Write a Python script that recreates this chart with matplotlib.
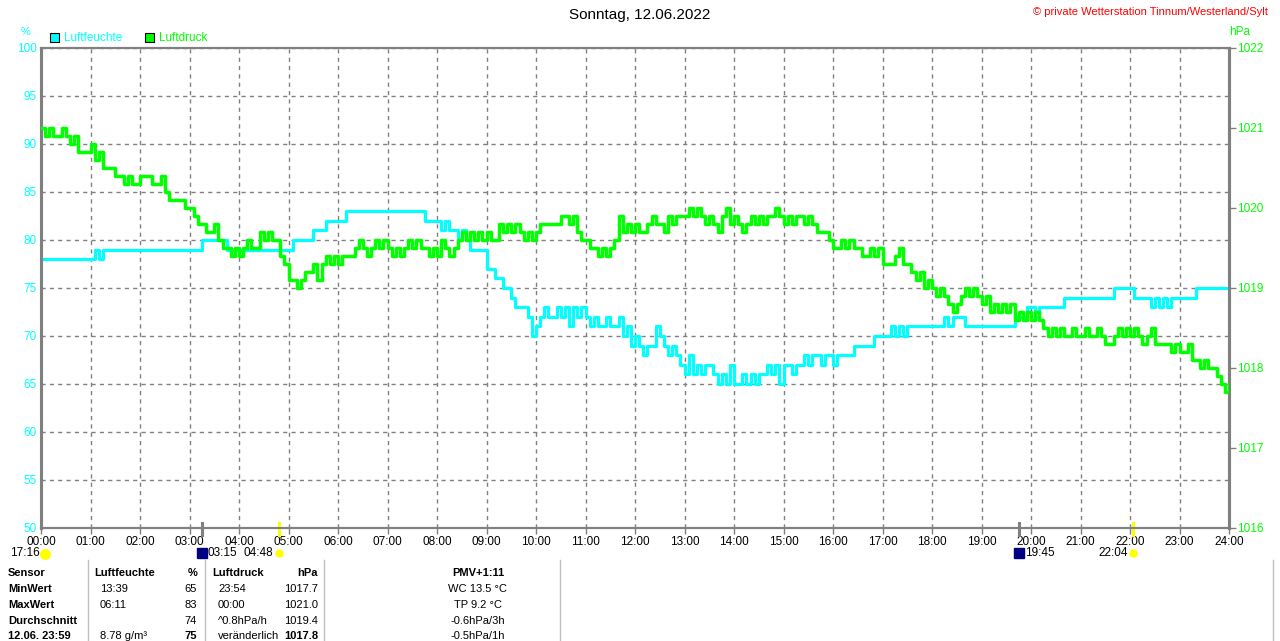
import numpy as np
import matplotlib
matplotlib.use("Agg")
import matplotlib.pyplot as plt
from matplotlib.patches import Rectangle
from matplotlib.lines import Line2D
from matplotlib.transforms import blended_transform_factory

plt.rcParams['font.family'] = ['Liberation Sans', 'DejaVu Sans']

CYAN = "#00ffff"
GREEN = "#00ff00"
GRAY = "#808080"

# Messwerte alle 5 Minuten, eine Zeile pro Stunde (hh:00 ... hh:55), dazu 24:00
humidity = [
    78, 78, 78, 78, 78, 78, 78, 78, 78, 78, 78, 78,
    78, 79, 78, 79, 79, 79, 79, 79, 79, 79, 79, 79,
    79, 79, 79, 79, 79, 79, 79, 79, 79, 79, 79, 79,
    79, 79, 79, 80, 80, 80, 80, 80, 80, 79, 79, 79,
    79, 79, 79, 79, 79, 79, 79, 79, 79, 79, 79, 79,
    79, 80, 80, 80, 80, 80, 81, 81, 81, 82, 82, 82,
    82, 82, 83, 83, 83, 83, 83, 83, 83, 83, 83, 83,
    83, 83, 83, 83, 83, 83, 83, 83, 83, 82, 82, 82,
    82, 81, 82, 81, 81, 80, 81, 80, 79, 79, 79, 79,
    77, 77, 76, 76, 75, 75, 74, 73, 73, 73, 72, 70,
    71, 72, 73, 72, 72, 73, 72, 73, 71, 73, 72, 73,
    72, 71, 72, 71, 71, 72, 71, 71, 72, 70, 71, 69,
    70, 69, 68, 69, 69, 71, 70, 69, 68, 69, 68, 67,
    66, 68, 66, 67, 66, 67, 67, 66, 65, 66, 65, 67,
    65, 65, 66, 65, 66, 65, 66, 66, 67, 66, 67, 65,
    67, 67, 66, 67, 67, 68, 67, 68, 68, 67, 68, 68,
    67, 68, 68, 68, 68, 69, 69, 69, 69, 69, 70, 70,
    70, 70, 71, 70, 71, 70, 71, 71, 71, 71, 71, 71,
    71, 71, 71, 72, 71, 72, 72, 72, 71, 71, 71, 71,
    71, 71, 71, 71, 71, 71, 71, 71, 72, 72, 72, 73,
    73, 72, 73, 73, 73, 73, 73, 73, 74, 74, 74, 74,
    74, 74, 74, 74, 74, 74, 74, 74, 75, 75, 75, 75,
    75, 74, 74, 74, 74, 73, 74, 73, 74, 73, 74, 74,
    74, 74, 74, 74, 75, 75, 75, 75, 75, 75, 75, 75,
    75,
]

pressure = [
    1021.0, 1020.9, 1021.0, 1020.9, 1020.9, 1021.0, 1020.9, 1020.8, 1020.9, 1020.7, 1020.7, 1020.7,
    1020.8, 1020.6, 1020.7, 1020.5, 1020.5, 1020.5, 1020.4, 1020.4, 1020.3, 1020.4, 1020.3, 1020.3,
    1020.4, 1020.4, 1020.4, 1020.3, 1020.3, 1020.4, 1020.2, 1020.1, 1020.1, 1020.1, 1020.1, 1020.0,
    1020.0, 1019.9, 1019.8, 1019.8, 1019.7, 1019.7, 1019.8, 1019.6, 1019.5, 1019.5, 1019.4, 1019.5,
    1019.4, 1019.5, 1019.6, 1019.5, 1019.5, 1019.7, 1019.6, 1019.7, 1019.6, 1019.6, 1019.4, 1019.3,
    1019.1, 1019.1, 1019.0, 1019.1, 1019.2, 1019.2, 1019.3, 1019.1, 1019.3, 1019.4, 1019.3, 1019.4,
    1019.3, 1019.4, 1019.4, 1019.4, 1019.5, 1019.6, 1019.5, 1019.4, 1019.5, 1019.6, 1019.5, 1019.6,
    1019.5, 1019.4, 1019.5, 1019.4, 1019.5, 1019.6, 1019.5, 1019.6, 1019.5, 1019.5, 1019.4, 1019.5,
    1019.4, 1019.6, 1019.5, 1019.4, 1019.5, 1019.6, 1019.7, 1019.6, 1019.7, 1019.6, 1019.7, 1019.6,
    1019.7, 1019.6, 1019.6, 1019.8, 1019.7, 1019.8, 1019.7, 1019.8, 1019.7, 1019.6, 1019.7, 1019.6,
    1019.7, 1019.8, 1019.8, 1019.8, 1019.8, 1019.8, 1019.9, 1019.9, 1019.8, 1019.9, 1019.7, 1019.6,
    1019.6, 1019.5, 1019.5, 1019.4, 1019.5, 1019.4, 1019.5, 1019.6, 1019.9, 1019.7, 1019.8, 1019.7,
    1019.8, 1019.7, 1019.7, 1019.8, 1019.9, 1019.8, 1019.8, 1019.7, 1019.9, 1019.8, 1019.9, 1019.9,
    1019.9, 1020.0, 1019.9, 1020.0, 1019.9, 1019.8, 1019.9, 1019.8, 1019.7, 1019.9, 1020.0, 1019.8,
    1019.9, 1019.8, 1019.7, 1019.8, 1019.9, 1019.8, 1019.9, 1019.8, 1019.9, 1019.9, 1020.0, 1019.9,
    1019.8, 1019.9, 1019.8, 1019.9, 1019.9, 1019.8, 1019.9, 1019.8, 1019.7, 1019.7, 1019.7, 1019.6,
    1019.5, 1019.5, 1019.6, 1019.5, 1019.6, 1019.5, 1019.5, 1019.4, 1019.4, 1019.5, 1019.4, 1019.5,
    1019.3, 1019.3, 1019.3, 1019.4, 1019.5, 1019.3, 1019.3, 1019.2, 1019.1, 1019.2, 1019.0, 1019.1,
    1019.0, 1018.9, 1019.0, 1018.9, 1018.8, 1018.7, 1018.8, 1018.9, 1019.0, 1018.9, 1019.0, 1018.9,
    1018.8, 1018.9, 1018.7, 1018.8, 1018.7, 1018.8, 1018.7, 1018.8, 1018.6, 1018.7, 1018.6, 1018.7,
    1018.6, 1018.7, 1018.6, 1018.5, 1018.4, 1018.5, 1018.4, 1018.5, 1018.4, 1018.4, 1018.5, 1018.4,
    1018.4, 1018.5, 1018.4, 1018.4, 1018.5, 1018.4, 1018.3, 1018.3, 1018.4, 1018.5, 1018.4, 1018.5,
    1018.4, 1018.5, 1018.4, 1018.3, 1018.4, 1018.5, 1018.3, 1018.3, 1018.3, 1018.3, 1018.2, 1018.3,
    1018.2, 1018.2, 1018.3, 1018.1, 1018.1, 1018.0, 1018.1, 1018.0, 1018.0, 1017.9, 1017.8, 1017.7,
    1017.8,
]

hour_labels = ["%02d:00" % h for h in range(25)]

# Sonnen-/Mondauf- und -untergang
events = [("03:15", 3.25, "moon"), ("04:48", 4.8, "sun"),
          ("19:45", 19.75, "moon"), ("22:04", 22.067, "sun")]

table_rows = [
    ["Sensor", "Luftfeuchte", "%", "Luftdruck", "hPa", "PMV+1:11"],
    ["MinWert", "13:39", "65", "23:54", "1017.7", "WC 13.5 °C"],
    ["MaxWert", "06:11", "83", "00:00", "1021.0", "TP 9.2 °C"],
    ["Durchschnitt", "", "74", "^0.8hPa/h", "1019.4", "-0.6hPa/3h"],
    ["12.06. 23:59", "8.78 g/m³", "75", "veränderlich", "1017.8", "-0.5hPa/1h"],
]

W, H = 1280, 641
t = np.arange(len(pressure)) * 5 / 60.0


def fx(x):
    return x / W


def fy(y):
    return 1 - y / H


fig = plt.figure(figsize=(W / 100, H / 100), dpi=100)
ax = fig.add_axes([fx(41), fy(528), 1188 / W, 480 / H])
ax2 = ax.twinx()

ax.plot(t, humidity, color=CYAN, lw=2.3, drawstyle="steps-post", zorder=3)
ax2.plot(t, pressure, color=GREEN, lw=2.5, drawstyle="steps-post", zorder=3)

ax.set_xlim(0, 24)
ax.set_ylim(50, 100)
ax2.set_ylim(1016, 1022)

ax.set_xticks(range(25))
ax.set_xticklabels(hour_labels, fontsize=8.5)
ax.set_yticks(range(50, 101, 5))
ax.tick_params(axis="y", colors=CYAN, labelsize=8.5, length=0, pad=3)
ax.tick_params(axis="x", colors=GRAY, labelcolor="black", length=4, width=1, pad=2)
ax2.set_yticks(range(1016, 1023))
ax2.tick_params(axis="y", colors=GRAY, labelcolor=GREEN, labelsize=8.5, length=5, width=1, pad=1)

ax.grid(True, color=GRAY, linestyle=(0, (3, 3)), linewidth=1)
ax.set_axisbelow(True)

for a in (ax, ax2):
    for side in ("left", "right"):
        a.spines[side].set_color(GRAY)
        a.spines[side].set_linewidth(2.2)
    for side in ("top", "bottom"):
        a.spines[side].set_color(GRAY)
        a.spines[side].set_linewidth(1.5)

# Markierungen auf der Zeitachse
trans = blended_transform_factory(ax.transData, ax.transAxes)
for label, hour, kind in events:
    col = "#ffff00" if kind == "sun" else GRAY
    ax.add_line(Line2D([hour, hour], [0.01, -0.015], transform=trans, color=col,
                       lw=2.2, clip_on=False, zorder=5))
    if kind == "moon":
        ax.plot(hour, -0.052, marker="s", ms=7, color="#000080", transform=trans, clip_on=False)
        ax.annotate(label, (hour, -0.052), xycoords=trans, xytext=(4.3, 0),
                    textcoords="offset points", fontsize=8.5, ha="left", va="center")
    else:
        ax.plot(hour, -0.052, marker="o", ms=5, color="#ffff00", transform=trans, clip_on=False)
        ax.annotate(label, (hour, -0.052), xycoords=trans, xytext=(-3.6, 0),
                    textcoords="offset points", fontsize=8.5, ha="right", va="center")
fig.text(fx(10), fy(553), "17:16", fontsize=8.5, va="center")
fig.add_artist(Line2D([fx(45)], [fy(554)], transform=fig.transFigure, marker=(20, 0, 0),
                      ms=8, color="#ffff00", fillstyle="top", markeredgewidth=0))

# Titel und Beschriftungen
fig.text(0.5, fy(15), "Sonntag, 12.06.2022", fontsize=11, ha="center", va="center")
fig.text(fx(1268), fy(12), "© private Wetterstation Tinnum/Westerland/Sylt",
         fontsize=8, color="red", ha="right", va="center")
fig.text(fx(26), fy(32), "%", fontsize=8, color=CYAN, ha="center", va="center")
fig.text(fx(1240), fy(32), "hPa", fontsize=8.5, color=GREEN, ha="center", va="center")

for x0, col, name in [(50, CYAN, "Luftfeuchte"), (145, GREEN, "Luftdruck")]:
    fig.patches.append(Rectangle((fx(x0), fy(42)), 9 / W, 9 / H, transform=fig.transFigure,
                                 facecolor=col, edgecolor="black", lw=0.8))
    fig.text(fx(x0 + 14), fy(38), name, fontsize=8.5, color=col, va="center")

# Tabelle unten
row_y = [573, 589, 605, 621, 636]
cols = [(8, "left"), (94, "left"), (197, "right"), (212, "left"), (318, "right"), (478, "center")]
for r, row in enumerate(table_rows):
    for c, txt in enumerate(row):
        x, ha = cols[c]
        if r > 0 and c in (1, 3):
            x += 6
        bold = r == 0 or c == 0 or (r == 4 and c in (2, 4))
        fig.text(fx(x), fy(row_y[r]), txt, fontsize=8, ha=ha, va="center",
                 fontweight="bold" if bold else "normal")

for x in [88, 205, 324, 560, 1273]:
    fig.add_artist(Line2D([fx(x), fx(x)], [fy(560), 0], transform=fig.transFigure,
                          color="#c0c0c0", lw=1))

fig.savefig("out.png", dpi=100)
